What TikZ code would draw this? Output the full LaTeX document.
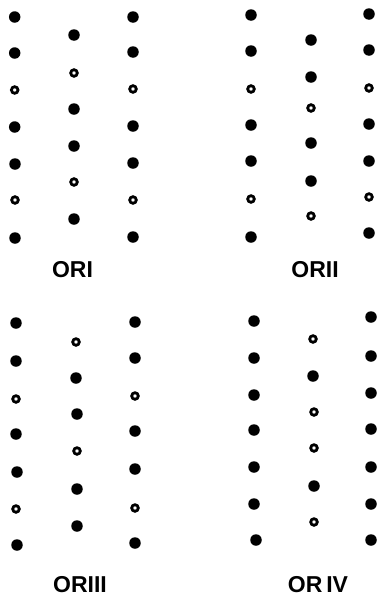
\documentclass[tikz,border=0pt]{standalone}
\usepackage{fontspec}
\setmainfont{Liberation Sans}
\begin{document}
\begin{tikzpicture}[x=1pt,y=-1pt,
  fd/.style={circle,fill=black,minimum size=11.5pt,inner sep=0pt},
  od/.style={circle,draw=black,line width=2.8pt,minimum size=6.6pt,inner sep=0pt},
  lab/.style={font=\fontsize{23}{23}\selectfont\bfseries,inner sep=0pt}]
\useasboundingbox (0,0) rectangle (379,600);
% Panel I
\foreach \x/\y [count=\i] in {14.7/17,14.7/53,14.7/127,15/164,15/238,
  74/35,74/109,74/146,74/219,
  133/17,133/52,133/126,133/163,133/237}
  \node[fd] (a\i) at (\x,\y) {};
\foreach \x/\y [count=\i] in {14.7/90,15/200,74/73,74/182,133/89,133/200}
  \node[od] (ao\i) at (\x,\y) {};
\node[lab] (la) at (72.5,270) {ORI};
% Panel II
\foreach \x/\y [count=\i] in {251/15,251/51,251/125,251/161,251/237,
  311/40,311/77,311/143,311/181,
  369/14,369/50,369/124,369/161,369/233}
  \node[fd] (b\i) at (\x,\y) {};
\foreach \x/\y [count=\i] in {251/89,251/199,311/108,311/216,369/88,369/197}
  \node[od] (bo\i) at (\x,\y) {};
\node[lab] (lb) at (315,270) {ORII};
% Panel III
\foreach \x/\y [count=\i] in {16/323,16/361,16/434,17/472,17/545,
  76/378,77/414,77/489,77/526,
  135/322,135/358,135/431,135/469,135/543}
  \node[fd] (c\i) at (\x,\y) {};
\foreach \x/\y [count=\i] in {16/399,16/509,76/342,77/451,135/396,135/508}
  \node[od] (co\i) at (\x,\y) {};
\node[lab] (lc) at (80,585) {ORIII};
% Panel IV
\foreach \x/\y [count=\i] in {254/321,254/358,254/395,254/430,254/467,254/504,256/540,
  313/376,314/486,
  371/317,371/356,371/393,371/429,371/467,371/504,371/540}
  \node[fd] (d\i) at (\x,\y) {};
\foreach \x/\y [count=\i] in {313/339,314/412,314/448,314/522}
  \node[od] (do\i) at (\x,\y) {};
\node[lab] (ld) at (318,585) {OR\,IV};
\end{tikzpicture}
\end{document}
